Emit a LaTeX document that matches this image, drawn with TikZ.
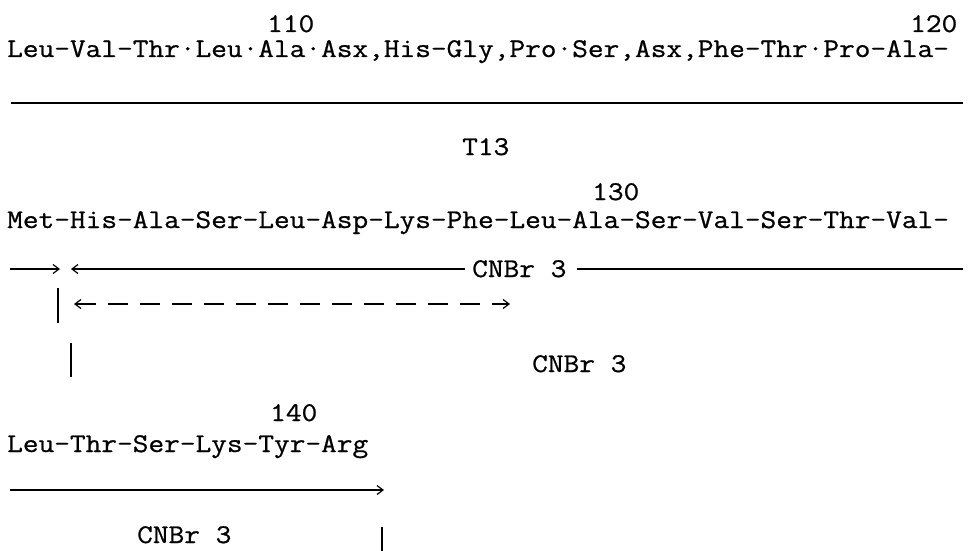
\documentclass[tikz,border=0pt]{standalone}
\usepackage{fontspec}
\newfontfamily\courfont[FakeStretch=1.1288,FakeBold=0.8]{Latin Modern Mono}
\usetikzlibrary{arrows.meta}
\begin{document}
\begin{tikzpicture}[x=1pt,y=-1pt,
  seq/.style={anchor=base west,inner sep=0pt,font=\courfont\fontsize{27}{32}\selectfont},
  rule/.style={line width=1.3pt},
  tip/.style={-{Straight Barb[length=6pt,width=9pt,line width=1.2pt]}},
  bar/.style={line width=1.4pt}]
\useasboundingbox (0,0) rectangle (972,551);
% row 1
\node[seq] (n110) at (267,32) {110};
\node[seq] (n120) at (910,32) {120};
\node[seq] (s1) at (7,57) {Leu-Val-Thr·Leu·Ala·Asx,His-Gly,Pro·Ser,Asx,Phe-Thr·Pro-Ala-};
\coordinate (r1a) at (11,103);
\coordinate (r1b) at (963,103);
\draw[rule] (r1a) -- (r1b);
\node[seq] (t13) at (462,155) {T13};
% row 2
\node[seq] (n130) at (592,200) {130};
\node[seq] (s2) at (7,228) {Met-His-Ala-Ser-Leu-Asp-Lys-Phe-Leu-Ala-Ser-Val-Ser-Thr-Val-};
\node[seq] (c1) at (472,277) {CNBr 3};
\coordinate (a1) at (10,269);
\coordinate (a1e) at (60,269);
\coordinate (a2) at (465,269);
\coordinate (a2e) at (71,269);
\coordinate (a3) at (577,269);
\coordinate (a3e) at (963,269);
\draw[rule,tip] (a1) -- (a1e);
\draw[rule,tip] (a2) -- (a2e);
\draw[rule] (a3) -- (a3e);
\coordinate (b1a) at (58,288);
\coordinate (b1b) at (58,323);
\draw[bar] (b1a) -- (b1b);
\coordinate (d1) at (74,304);
\coordinate (d2) at (510,304);
\draw[rule,dash pattern=on 20pt off 12pt,
  {Straight Barb[length=6pt,width=9pt,line width=1.2pt]}-{Straight Barb[length=6pt,width=9pt,line width=1.2pt]}]
  (d1) -- (d2);
\coordinate (b2a) at (71,343);
\coordinate (b2b) at (71,377);
\draw[bar] (b2a) -- (b2b);
\node[seq] (c2) at (532,372) {CNBr 3};
% row 3
\node[seq] (n140) at (270,421) {140};
\node[seq] (s3) at (7,452) {Leu-Thr-Ser-Lys-Tyr-Arg};
\coordinate (e1) at (10,490);
\coordinate (e2) at (384,490);
\draw[rule,tip] (e1) -- (e2);
\node[seq] (c3) at (137,543) {CNBr 3};
\coordinate (b3a) at (382,527);
\coordinate (b3b) at (382,551);
\draw[bar] (b3a) -- (b3b);
\end{tikzpicture}
\end{document}
